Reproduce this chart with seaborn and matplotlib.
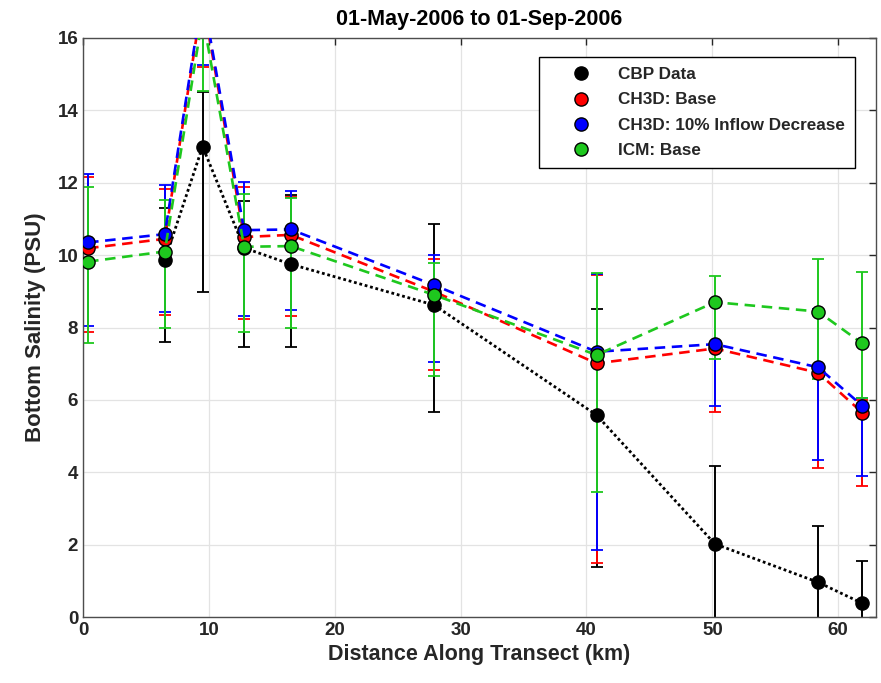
import matplotlib
matplotlib.use("Agg")
import matplotlib.pyplot as plt
from matplotlib.lines import Line2D
import numpy as np
import pandas as pd
import seaborn as sns

# ---------------- data ----------------
dist_km = [0.4, 6.5, 9.5, 12.8, 16.5, 27.9, 40.8, 50.2, 58.4, 61.9]
cbp_km = [6.5, 9.5, 12.8, 16.5, 27.9, 40.8, 50.2, 58.4, 61.9]

cbp_mean = [9.86, 13.0, 10.2, 9.75, 8.62, 5.58, 2.02, 0.96, 0.38]
cbp_lo = [7.6, 8.99, 7.47, 7.47, 5.67, 1.39, -0.13, -0.6, -0.8]
cbp_hi = [11.31, 14.5, 11.5, 11.65, 10.85, 8.52, 4.17, 2.52, 1.55]

ch3d_mean = [10.19, 10.45, 17.1, 10.5, 10.56, 8.99, 7.01, 7.42, 6.75, 5.65]
ch3d_lo = [7.88, 8.34, 15.2, 8.23, 8.33, 6.82, 1.5, 5.66, 4.11, 3.63]
ch3d_hi = [12.17, 11.82, 19.0, 11.88, 11.61, 9.88, 9.45, 8.65, 8.45, 6.0]

ch3d10_mean = [10.35, 10.58, 17.2, 10.69, 10.71, 9.17, 7.33, 7.54, 6.9, 5.84]
ch3d10_lo = [8.04, 8.44, 15.25, 8.32, 8.48, 7.05, 1.85, 5.84, 4.34, 3.9]
ch3d10_hi = [12.24, 11.94, 19.2, 12.03, 11.78, 10.0, 9.48, 8.7, 8.5, 6.05]

icm_mean = [9.82, 10.1, 16.6, 10.23, 10.25, 8.9, 7.24, 8.7, 8.44, 7.56]
icm_lo = [7.58, 8.0, 14.53, 7.88, 8.0, 6.66, 3.45, 7.13, 6.57, 6.05]
icm_hi = [11.89, 11.52, 18.7, 11.7, 11.59, 9.79, 9.51, 9.42, 9.89, 9.54]

labels = ["CBP Data", "CH3D: Base", "CH3D: 10% Inflow Decrease", "ICM: Base"]
x_ticks = [0, 10, 20, 30, 40, 50, 60]
y_ticks = [0, 2, 4, 6, 8, 10, 12, 14, 16]

# ---------------- style ----------------
sns.set_style("whitegrid")
plt.rcParams["font.family"] = ["Liberation Sans", "DejaVu Sans"]
plt.rcParams["font.weight"] = "bold"

fig = plt.figure(figsize=(8.81, 6.83), dpi=100)
ax = fig.add_axes([83 / 881, 1 - 617 / 683, (876 - 83) / 881, (617 - 38) / 683])

green = "#1ec81e"
series = [
    (labels[0], cbp_km, cbp_mean, cbp_lo, cbp_hi, "black", (0, (1, 1)), 2.0),
    (labels[1], dist_km, ch3d_mean, ch3d_lo, ch3d_hi, "#ff0000", (0, (4, 2.5)), 1.9),
    (labels[2], dist_km, ch3d10_mean, ch3d10_lo, ch3d10_hi, "#0000ff", (0, (4, 2.5)), 1.9),
    (labels[3], dist_km, icm_mean, icm_lo, icm_hi, green, (0, (4, 2.5)), 1.9),
]

# error bars first
for i, (lab, xs, m, lo, hi, c, ls, lw) in enumerate(series):
    m_a = np.array(m)
    yerr = [m_a - np.array(lo), np.array(hi) - m_a]
    ax.errorbar(xs, m_a, yerr=yerr, fmt="none", ecolor=c,
                elinewidth=1.4, capsize=4.5, capthick=1.3,
                zorder=2 + i * 0.1)

# lines with markers
for i, (lab, xs, m, lo, hi, c, ls, lw) in enumerate(series):
    df = pd.DataFrame({"km": xs, "val": m})
    sns.lineplot(data=df, x="km", y="val", ax=ax, color=c, linestyle=ls,
                 linewidth=lw, marker="o", markersize=9.5,
                 markeredgecolor="black", markeredgewidth=1.0,
                 estimator=None, sort=False, legend=False, zorder=3 + i * 0.1)

ax.set_xlim(0, 63)
ax.set_ylim(0, 16)
ax.set_xticks(x_ticks)
ax.set_yticks(y_ticks)
ax.tick_params(axis="both", direction="in", length=5, width=1, colors="#262626",
               labelsize=13.5, top=True, right=True, labelcolor="#262626")
for lbl in ax.get_xticklabels() + ax.get_yticklabels():
    lbl.set_fontweight("bold")
ax.grid(True, color="#e3e3e3", linewidth=0.9)
for sp in ax.spines.values():
    sp.set_color("#4d4d4d")
    sp.set_linewidth(1.0)

ax.set_xlabel("Distance Along Transect (km)", fontsize=15.5, fontweight="bold",
              color="#262626", labelpad=4)
ax.set_ylabel("Bottom Salinity (PSU)", fontsize=16, fontweight="bold",
              color="#262626", labelpad=8)
ax.set_title("01-May-2006 to 01-Sep-2006", fontsize=15.5, fontweight="bold",
             color="black", pad=9)

handles = [Line2D([], [], marker="o", linestyle="none", color=s[5],
                  markeredgecolor="black", markersize=9.5) for s in series]
leg = ax.legend(handles, labels, loc="upper right",
                bbox_to_anchor=(855 / 881, 1 - 57 / 683),
                bbox_transform=fig.transFigure, borderaxespad=0,
                prop={"weight": "bold", "size": 12.3}, frameon=True,
                fancybox=False, framealpha=1, edgecolor="black",
                handlelength=3.65, handletextpad=0.35, borderpad=0.6,
                labelspacing=0.6)
leg.get_frame().set_linewidth(1.0)

fig.savefig("out.png", dpi=100, facecolor="white")
